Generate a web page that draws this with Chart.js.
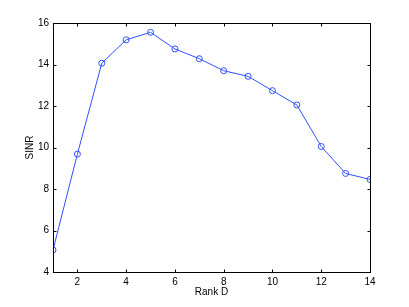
<!DOCTYPE html>
<html>
<head>
<meta charset="utf-8">
<script src="https://cdn.jsdelivr.net/npm/chart.js@4"></script>
<style>
  html, body { margin: 0; padding: 0; background: #fff; }
  #wrap { width: 409px; height: 307px; }
</style>
</head>
<body>
<div id="wrap"><canvas id="grafico" width="409" height="307"></canvas></div>
<script>
// valores
const rankD = [1, 2, 3, 4, 5, 6, 7, 8, 9, 10, 11, 12, 13, 14];
const sinr = [5.06, 9.68, 14.06, 15.19, 15.55, 14.75, 14.28, 13.70, 13.43, 12.74, 12.05, 10.05, 8.75, 8.46];
const xTicks = [2, 4, 6, 8, 10, 12, 14];
const yTicks = [4, 6, 8, 10, 12, 14, 16];

// caja y marcas hacia dentro, estilo matlab
const cajaPlugin = {
    id: "caja",
    afterDraw(chart) {
        const { ctx, chartArea: a, scales } = chart;
        const l = Math.round(a.left) + 0.5, r = Math.round(a.right) + 0.5;
        const t = Math.round(a.top) + 0.5, b = Math.round(a.bottom) + 0.5;
        ctx.save();
        ctx.strokeStyle = "#000";
        ctx.lineWidth = 1;
        ctx.strokeRect(l, t, r - l, b - t);
        ctx.beginPath();
        xTicks.forEach(v => {
            const x = Math.round(scales.x.getPixelForValue(v)) + 0.5;
            ctx.moveTo(x, b); ctx.lineTo(x, b - 3);
            ctx.moveTo(x, t); ctx.lineTo(x, t + 3);
        });
        yTicks.forEach(v => {
            const y = Math.round(scales.y.getPixelForValue(v)) + 0.5;
            ctx.moveTo(l, y); ctx.lineTo(l + 3, y);
            ctx.moveTo(r, y); ctx.lineTo(r - 3, y);
        });
        ctx.stroke();
        ctx.restore();
    }
};

const fuente = { family: "'Liberation Sans', Arial, sans-serif", size: 10 };

new Chart(document.getElementById("grafico").getContext("2d"), {
    type: "line",
    data: {
        datasets: [{
            data: rankD.map((x, i) => ({ x: x, y: sinr[i] })),
            borderColor: "#3050ff",
            borderWidth: 1,
            pointStyle: "circle",
            pointRadius: 3,
            pointBorderWidth: 1,
            pointBackgroundColor: "rgba(0,0,0,0)",
            pointBorderColor: "#3050ff",
            tension: 0,
            fill: false
        }]
    },
    options: {
        responsive: false,
        animation: false,
        layout: { padding: { top: 23, right: 39, left: 24, bottom: 9 } },
        plugins: { legend: { display: false }, tooltip: { enabled: false } },
        scales: {
            x: {
                type: "linear",
                min: 1, max: 14,
                afterBuildTicks: s => { s.ticks = xTicks.map(v => ({ value: v })); },
                afterFit: s => { s.height = 26; },
                grid: { display: false, drawTicks: false, tickLength: 0 },
                border: { display: false },
                ticks: { color: "#000", font: fuente, padding: 4, maxRotation: 0 },
                title: { display: true, text: "Rank D", color: "#000", font: fuente, padding: { top: 0, bottom: 0 } }
            },
            y: {
                min: 4, max: 16,
                afterBuildTicks: s => { s.ticks = yTicks.map(v => ({ value: v })); },
                afterFit: s => { s.width = 29; },
                grid: { display: false, drawTicks: false, tickLength: 0 },
                border: { display: false },
                ticks: { color: "#000", font: fuente, padding: 4 },
                title: { display: true, text: "SINR", color: "#000", font: fuente, padding: { top: 0, bottom: 0 } }
            }
        }
    },
    plugins: [cajaPlugin]
});
</script>
</body>
</html>
